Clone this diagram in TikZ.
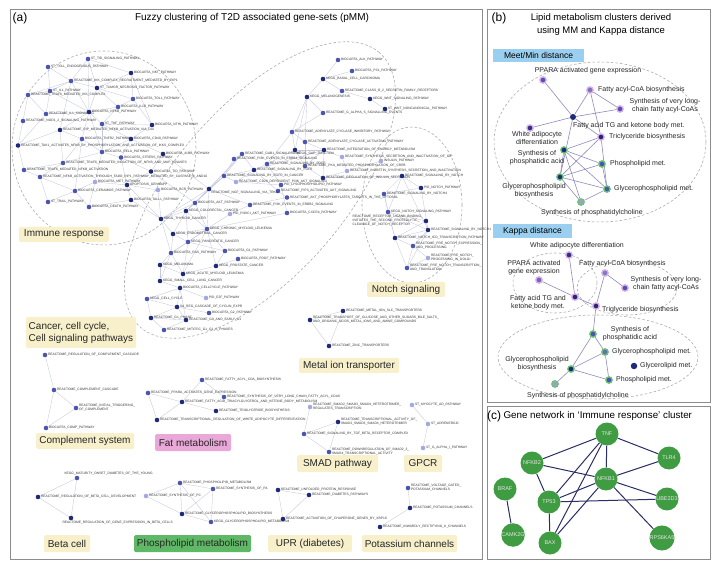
\documentclass[tikz,border=0pt]{standalone}
\usepackage{fontspec}
\setmainfont{Liberation Sans}
\usepackage{tikz}
\usetikzlibrary{positioning, backgrounds}
\definecolor{gsdark}{HTML}{1E2A78}
\definecolor{gsmid}{HTML}{4B55AE}
\definecolor{gslight}{HTML}{A4A8E0}
\definecolor{gsline}{HTML}{C3C6DC}
\definecolor{tagyellow}{HTML}{F7F0CB}
\definecolor{tagpink}{HTML}{E9A8D8}
\definecolor{taggreen}{HTML}{5FB865}
\definecolor{tagblue}{HTML}{9BCFF0}
\definecolor{ringpink}{HTML}{E4ACEA}
\definecolor{ringgreen}{HTML}{6CC474}
\definecolor{lipidline}{HTML}{8D8BB8}
\definecolor{genefill}{HTML}{3F9C42}
\definecolor{geneline}{HTML}{2B2E66}
\definecolor{panelgray}{HTML}{8C8C8C}

\tikzset{
  gset/.style={circle, inner sep=0pt, minimum size=4.6pt, fill=gsmid},
  gdark/.style={gset, fill=gsdark},
  glight/.style={gset, fill=gslight},
  gslab/.style={font=\fontsize{3.3}{3.9}\selectfont, text=black!80, inner sep=0.3pt, align=left},
  lr/.style={label={[gslab]right:#1}},
  ll/.style={label={[gslab]left:#1}},
  lbr/.style={label={[gslab]below right:#1}},
  gsedge/.style={draw=gsline, line width=0.35pt},
  clus/.style={draw=gray!70, line width=0.55pt, dash pattern=on 2.6pt off 2pt},
  tag/.style={rectangle, rounded corners=1.5pt, fill=tagyellow, inner sep=0pt,
    font=\fontsize{10}{12}\selectfont, text=black!85, align=left},
  panel/.style={draw=panelgray, line width=0.8pt},
  ptag/.style={font=\fontsize{12}{14}\selectfont},
  lipid/.style={circle, inner sep=0pt, minimum size=6.4pt, line width=1.3pt, draw=ringpink, fill=gsmid},
  lipidg/.style={lipid, draw=ringgreen},
  lplab/.style={font=\fontsize{7}{8}\selectfont, text=black!85, inner sep=0pt, align=center},
  lpedge/.style={draw=lipidline, line width=0.6pt},
  dbox/.style={rectangle, fill=tagblue, inner sep=0pt, font=\fontsize{8.5}{10}\selectfont},
  gene/.style={circle, fill=genefill, inner sep=0pt, minimum size=23pt,
    font=\fontsize{5.5}{6}\selectfont, text=gray!20},
  gnedge/.style={draw=geneline, line width=1pt}
}

\begin{document}
\begin{tikzpicture}[x=1pt, y=-1pt]
\useasboundingbox (0,0) rectangle (726,561);

% panel frames and headings
\draw[panel] (10,9) rectangle (482,559);
\draw[panel] (487,9) rectangle (710,402);
\draw[panel] (487,406) rectangle (710,559);
\node[ptag] (pa) at (20,18) {(a)};
\node[font=\fontsize{10}{12}\selectfont] (ta) at (252,18) {Fuzzy clustering of T2D associated gene-sets (pMM)};
\node[ptag] (pb) at (499,18) {(b)};
\node[font=\fontsize{9.5}{13}\selectfont, align=center] (tb) at (601,24.5) {Lipid metabolism clusters derived\\using MM and Kappa distance};
\node[ptag] (pc) at (494,416) {(c)};
\node[font=\fontsize{9.8}{12}\selectfont, anchor=west] (tc) at (500,416) {Gene network in ‘Immune response’ cluster};

%%% (a) immune response
\node[gset, lr={ST\_TID\_SIGNALING\_PATHWAY}] (i1) at (88,59) {};
\node[gset, lr={ST\_TOLL\_ENDOGENOUS\_PATHWAY}] (i2) at (48,67) {};
\node[gdark, lr={BIOCARTA\_NKT\_PATHWAY}] (i3) at (131,73) {};
\node[gset, lr={REACTOME\_IKK\_COMPLEX\_RECRUITMENT\_MEDIATED\_BY\_RIP1}] (i4) at (71,81) {};
\node[gset, lr={ST\_IL1\_PATHWAY}] (i5) at (50,91) {};
\node[gset, lr={REACTOME\_TRAF6\_MEDIATED\_IKK\_COMPLEX}] (i6) at (28,95) {};
\node[gdark, lr={ST\_TUMOR\_NECROSIS\_FACTOR\_PATHWAY}] (i7) at (97,88) {};
\node[gset, lr={BIOCARTA\_TOLL\_PATHWAY}] (i8) at (133,99) {};
\node[gset, lr={BIOCARTA\_IL1R\_PATHWAY}] (i9) at (118,107) {};
\node[gset, lr={REACTOME\_IL1\_SIGNALING}] (i10) at (46,114) {};
\node[gdark, lr={BIOCARTA\_NFKB\_PATHWAY}] (i11) at (89,112) {};
\node[gset, lr={REACTOME\_NOD1\_2\_SIGNALING\_PATHWAY}] (i12) at (23,121) {};
\node[gset, lr={ST\_TNF\_PATHWAY}] (i13) at (102,124) {};
\node[gdark, lr={BIOCARTA\_NTHI\_PATHWAY}] (i14) at (152,125) {};
\node[gdark, lr={REACTOME\_RIP\_MEDIATED\_NFKB\_ACTIVATION\_VIA\_DAI}] (i15) at (60,130) {};
\node[gset, lr={BIOCARTA\_TNFR2\_PATHWAY}] (i16) at (82,139) {};
\node[gdark, lr={BIOCARTA\_CD40\_PATHWAY}] (i17) at (131,139) {};
\node[gdark, lr={REACTOME\_TAK1\_ACTIVATES\_NFKB\_BY\_PHOSPHORYLATION\_AND\_ACTIVATION\_OF\_IKKS\_COMPLEX}] (i18) at (18,145.5) {};
\node[gset, lr={BIOCARTA\_RELA\_PATHWAY}] (i19) at (102,152) {};
\node[gdark, lr={BIOCARTA\_41BB\_PATHWAY}] (i20) at (163,154) {};
\node[gset, lr={BIOCARTA\_STRESS\_PATHWAY}] (i21) at (121,157.5) {};
\node[gset, lr={REACTOME\_TRAF6\_MEDIATED\_INDUCTION\_OF\_NFKB\_AND\_MAP\_KINASES}] (i22) at (63,163) {};
\node[gset, lr={REACTOME\_TRAF6\_MEDIATED\_NFKB\_ACTIVATION}] (i23) at (24,170) {};
\node[gset, lr={REACTOME\_NFKB\_ACTIVATION\_THROUGH\_FADD\_RIP1\_PATHWAY\_MEDIATED\_BY\_CASPASE\_8\_AND10}] (i24) at (40,177) {};
\node[gdark, lr={BIOCARTA\_TID\_PATHWAY}] (i25) at (151,171.5) {};
\node[glight, lr={BIOCARTA\_MET\_PATHWAY}] (i26) at (95,182) {};
\node[gdark, lr={APOPTOSIS\_GENMAPP}] (i27) at (127,185) {};
\node[glight, lr={BIOCARTA\_BCR\_PATHWAY}] (i28) at (158,190) {};
\node[gset, lr={BIOCARTA\_CERAMIDE\_PATHWAY}] (i29) at (75,191) {};
\node[gdark, lr={BIOCARTA\_TALL1\_PATHWAY}] (i30) at (131,200) {};
\node[gset, lr={ST\_TRAIL\_PATHWAY}] (i31) at (48,202) {};
\node[gset, lr={BIOCARTA\_DEATH\_PATHWAY}] (i32) at (89,207) {};

%%% (a) signalling, cancer and cell cycle
\node[gset, lr={BIOCARTA\_ALK\_PATHWAY}] (b1) at (338,60) {};
\node[gset, lr={BIOCARTA\_PS1\_PATHWAY}] (b2) at (352,71) {};
\node[gdark, lr={KEGG\_BASAL\_CELL\_CARCINOMA}] (b3) at (323,79) {};
\node[gset, lr={REACTOME\_CLASS\_B\_2\_SECRETIN\_FAMILY\_RECEPTORS}] (b4) at (342,91) {};
\node[gdark, lr={KEGG\_MELANOGENESIS}] (b5) at (307,97) {};
\node[gdark, lr={KEGG\_WNT\_SIGNALING\_PATHWAY}] (b6) at (370,99) {};
\node[gdark, lr={ST\_WNT\_NONCANONICAL\_PATHWAY}] (b7) at (385,109) {};
\node[gset, lr={REACTOME\_G\_ALPHA\_S\_SIGNALLING\_EVENTS}] (b8) at (323,113) {};
\node[gset, lr={REACTOME\_ADENYLATE\_CYCLASE\_INHIBITORY\_PATHWAY}] (b9) at (292,132) {};
\node[gset, lr={REACTOME\_ADENYLATE\_CYCLASE\_ACTIVATING\_PATHWAY}] (b10) at (305,142) {};
\node[gdark, lbr={KEGG\_GAP\_JUNCTION}] (b11) at (295,150) {};
\node[gdark, lr={REACTOME\_INTEGRATION\_OF\_ENERGY\_METABOLISM}] (b12) at (324,150) {};
\node[glight, lr={REACTOME\_SYNTHESIS\_SECRETION\_AND\_INACTIVATION\_OF\_GIP}] (b13) at (342,157) {};
\node[glight, lr={INSULIN\_PATHWAY}] (b14) at (381,161) {};
\node[gset, lr={REACTOME\_PKA\_MEDIATED\_PHOSPHORYLATION\_OF\_CREB}] (b15) at (305,166) {};
\node[glight, lr={REACTOME\_INCRETIN\_SYNTHESIS\_SECRETION\_AND\_INACTIVATION}] (b16) at (347,171) {};
\node[gdark, lr={REACTOME\_REGULATION\_OF\_INSULIN\_SECRETION}] (b17) at (323,178) {};
\node[gset, lr={REACTOME\_SIGNALING\_BY\_PDGF}] (b18) at (267,164) {};
\node[gset, lr={PID\_LYSOPHOSPHOLIPID\_PATHWAY}] (b20) at (281,185) {};
\node[gset, lr={REACTOME\_PIP3\_ACTIVATES\_AKT\_SIGNALING}] (b21) at (278,191) {};
\node[gset, lr={REACTOME\_AKT\_PHOSPHORYLATES\_TARGETS\_IN\_THE\_CYTOSOL}] (b22) at (287,197.5) {};
\node[gset, lr={REACTOME\_PI3K\_EVENTS\_IN\_ERBB2\_SIGNALING}] (b24) at (250,205) {};
\node[gset, lr={BIOCARTA\_CXCR4\_PATHWAY}] (b25) at (287,213) {};
\node[gset, lr={REACTOME\_GAB1\_SIGNALOSOME}] (b26) at (242,154) {};
\node[gset, lr={REACTOME\_PI3K\_EVENTS\_IN\_ERBB4\_SIGNALING}] (b27) at (234,159) {};
\node[gset, lr={REACTOME\_SIGNALING\_BY\_EGFR\_IN\_CANCER}] (b28) at (224,176) {};
\node[gdark, lr={REACTOME\_SIGNALING\_BY\_FGFR}] (b29) at (254,170) {};
\node[glight, lr={REACTOME\_CD28\_DEPENDENT\_PI3K\_AKT\_SIGNALING}] (b30) at (236,182) {};
\node[gdark, lbr={REACTOME\_NGF\_SIGNALLING\_VIA\_TRKA}] (b31) at (209,189) {};
\node[glight, lr={PID\_PI3KCI\_AKT\_PATHWAY}] (b32) at (230,214) {};
\node[gset, lr={BIOCARTA\_AKT\_PATHWAY}] (b33) at (195,203) {};
\node[gdark, lr={KEGG\_COLORECTAL\_CANCER}] (b34) at (186,211) {};
\node[gdark, lr={KEGG\_THYROID\_CANCER}] (b35) at (161,219) {};
\node[gset, lr={KEGG\_CHRONIC\_MYELOID\_LEUKEMIA}] (b36) at (207,229) {};
\node[gdark, lr={KEGG\_ENDOMETRIAL\_CANCER}] (b37) at (173,234) {};
\node[gset, lr={KEGG\_PANCREATIC\_CANCER}] (b38) at (188,242) {};
\node[gset, lr={BIOCARTA\_G1\_PATHWAY}] (b39) at (225,251) {};
\node[gset, lr={BIOCARTA\_RAS\_PATHWAY}] (b40) at (171,253) {};
\node[gset, lr={BIOCARTA\_PDGF\_PATHWAY}] (b41) at (238,259) {};
\node[gdark, lr={KEGG\_MELANOMA}] (b42) at (160,265) {};
\node[gdark, lr={KEGG\_ACUTE\_MYELOID\_LEUKEMIA}] (b43) at (183,274) {};
\node[gdark, lr={KEGG\_PROSTATE\_CANCER}] (b44) at (216,266) {};
\node[gdark, lr={KEGG\_SMALL\_CELL\_LUNG\_CANCER}] (b46) at (160,281) {};
\node[gdark, lr={BIOCARTA\_CELLCYCLE\_PATHWAY}] (b47) at (180,288) {};
\node[glight, lr={PID\_E2F\_PATHWAY}] (b48) at (206,298) {};
\node[gset, lr={KEGG\_CELL\_CYCLE}] (b49) at (147,299) {};
\node[gdark, lr={SA\_REG\_CASCADE\_OF\_CYCLIN\_EXPR}] (b50) at (177,307) {};
\node[gset, lr={BIOCARTA\_G2\_PATHWAY}] (b51) at (209,313) {};
\node[gdark, lr={REACTOME\_G1\_PHASE}] (b52) at (151,318) {};
\node[gdark, lr={REACTOME\_G0\_AND\_EARLY\_G1}] (b53) at (186,320) {};
\node[gset, lr={REACTOME\_MITOTIC\_G1\_G1\_S\_PHASES}] (b54) at (164,330) {};

%%% (a) notch
\node[gdark, lr={REACTOME\_SIGNALING\_BY\_NOTCH}] (n1) at (402,176) {};
\node[gdark, lr={PID\_NOTCH\_PATHWAY}] (n2) at (421,188) {};
\node[gset, lr={REACTOME\_SIGNALING\_BY\_NOTCH4}] (n3) at (384,194) {};
\node[gset, lr={KEGG\_NOTCH\_SIGNALING\_PATHWAY}] (n4) at (388,212) {};
\node[gdark, ll={REACTOME\_RECEPTOR\_LIGAND\_BINDING\_\\INITIATES\_THE\_SECOND\_PROTEOLYTIC\_\\CLEAVAGE\_OF\_NOTCH\_RECEPTOR}] (n5) at (426,221) {};
\node[gdark, lr={REACTOME\_SIGNALING\_BY\_NOTCH1}] (n6) at (428,230) {};
\node[gdark, lr={REACTOME\_NOTCH\_ICD\_TRANSCRIPTION\_PATHWAY}] (n7) at (395,238) {};
\node[gset, lr={REACTOME\_PRE\_NOTCH\_EXPRESSION\_\\AND\_PROCESSING}] (n8) at (413,246) {};
\node[glight, lr={REACTOME\_PRE\_NOTCH\_\\PROCESSING\_IN\_GOLGI}] (n9) at (428,258) {};
\node[gset, lr={REACTOME\_PRE\_NOTCH\_TRANSCRIPTION\_\\AND\_TRANSLATION}] (n10) at (407,268) {};

%%% (a) small clusters
\node[gdark, lr={REACTOME\_METAL\_ION\_SLC\_TRANSPORTERS}] (mt1) at (343,311) {};
\node[gdark, lr={REACTOME\_TRANSPORT\_OF\_GLUCOSE\_AND\_OTHER\_SUGARS\_BILE\_SALTS\_\\AND\_ORGANIC\_ACIDS\_METAL\_IONS\_AND\_AMINE\_COMPOUNDS}] (mt2) at (310,320) {};
\node[gdark, lr={REACTOME\_ZINC\_TRANSPORTERS}] (mt3) at (329,346) {};

\node[gset, lr={REACTOME\_REGULATION\_OF\_COMPLEMENT\_CASCADE}] (cm1) at (45,355) {};
\node[gset, lr={REACTOME\_COMPLEMENT\_CASCADE}] (cm2) at (54,390) {};
\node[gset, lr={REACTOME\_INITIAL\_TRIGGERING\_\\OF\_COMPLEMENT}] (cm3) at (76,408) {};
\node[gset, lr={BIOCARTA\_COMP\_PATHWAY}] (cm4) at (46,428) {};

\node[gset, lr={REACTOME\_FATTY\_ACYL\_COA\_BIOSYNTHESIS}] (f1) at (202,380) {};
\node[gset, lr={REACTOME\_PPARA\_ACTIVATES\_GENE\_EXPRESSION}] (f2) at (148,393) {};
\node[gset, lr={REACTOME\_SYNTHESIS\_OF\_VERY\_LONG\_CHAIN\_FATTY\_ACYL\_COAS}] (f3) at (224,397) {};
\node[gdark, lr={REACTOME\_FATTY\_ACID\_TRIACYLGLYCEROL\_AND\_KETONE\_BODY\_METABOLISM}] (f4) at (182,402) {};
\node[gdark, lr={REACTOME\_TRIGLYCERIDE\_BIOSYNTHESIS}] (f5) at (216,411) {};
\node[gdark, lr={REACTOME\_TRANSCRIPTIONAL\_REGULATION\_OF\_WHITE\_ADIPOCYTE\_DIFFERENTIATION}] (f6) at (157,420) {};

\node[glight, lr={REACTOME\_SMAD2\_SMAD3\_SMAD4\_HETEROTRIMER\_\\REGULATES\_TRANSCRIPTION}] (s1) at (310,407) {};
\node[gdark, lr={REACTOME\_TRANSCRIPTIONAL\_ACTIVITY\_OF\_\\SMAD2\_SMAD3\_SMAD4\_HETEROTRIMER}] (s2) at (338,422) {};
\node[gset, lr={REACTOME\_SIGNALING\_BY\_TGF\_BETA\_RECEPTOR\_COMPLEX}] (s3) at (304,434) {};
\node[gset, lr={REACTOME\_DOWNREGULATION\_OF\_SMAD2\_3\_\\SMAD4\_TRANSCRIPTIONAL\_ACTIVITY}] (s4) at (329,452) {};

\node[glight, lr={ST\_MYOCYTE\_AD\_PATHWAY}] (gp1) at (412,405) {};
\node[glight, lr={ST\_ADRENERGIC}] (gp2) at (428,424) {};
\node[glight, lr={ST\_G\_ALPHA\_I\_PATHWAY}] (gp3) at (423,448) {};

\node[gset] (bc1) at (77,478) {};
\node[gslab, anchor=south west] (bc1t) at (64,476) {KEGG\_MATURITY\_ONSET\_DIABETES\_OF\_THE\_YOUNG};
\node[gdark, lr={REACTOME\_REGULATION\_OF\_BETA\_CELL\_DEVELOPMENT}] (bc2) at (38,497) {};
\node[gdark] (bc3) at (71,518) {};
\node[gslab, anchor=north west] (bc3t) at (62,521) {REACTOME\_REGULATION\_OF\_GENE\_EXPRESSION\_IN\_BETA\_CELLS};

\node[gset, lr={REACTOME\_PHOSPHOLIPID\_METABOLISM}] (p1) at (180,483) {};
\node[gset, lr={REACTOME\_SYNTHESIS\_OF\_PA}] (p2) at (213,489) {};
\node[glight, lr={REACTOME\_SYNTHESIS\_OF\_PC}] (p3) at (146,496) {};
\node[gdark, lr={REACTOME\_GLYCEROPHOSPHOLIPID\_BIOSYNTHESIS}] (p4) at (182,514) {};
\node[gset, lr={KEGG\_GLYCEROPHOSPHOLIPID\_METABOLISM}] (p5) at (211,522) {};

\node[gdark, lr={REACTOME\_UNFOLDED\_PROTEIN\_RESPONSE}] (u1) at (278,490) {};
\node[gdark, lr={REACTOME\_DIABETES\_PATHWAYS}] (u2) at (309,495) {};
\node[gdark, lr={REACTOME\_ACTIVATION\_OF\_CHAPERONE\_GENES\_BY\_XBP1S}] (u3) at (283,519) {};

\node[gset, lr={REACTOME\_VOLTAGE\_GATED\_\\POTASSIUM\_CHANNELS}] (kc1) at (408,488) {};
\node[gdark, lr={REACTOME\_POTASSIUM\_CHANNELS}] (kc2) at (410,508) {};
\node[gdark, lr={REACTOME\_INWARDLY\_RECTIFYING\_K\_CHANNELS}] (kc3) at (380,527) {};

% cluster tags
\node[tag, minimum width=90pt, minimum height=15pt] (tImm) at (64,234.5) {Immune response};
\node[tag, minimum width=110pt, minimum height=31pt] (tCan) at (81,332.5) {Cancer, cell cycle,\\Cell signaling pathways};
\node[tag, minimum width=78pt, minimum height=15pt] (tNot) at (406,289.5) {Notch signaling};
\node[tag, minimum width=100pt, minimum height=15pt] (tMet) at (349,365.5) {Metal ion transporter};
\node[tag, minimum width=98pt, minimum height=16pt] (tCom) at (85,441) {Complement system};
\node[tag, fill=tagpink, minimum width=76pt, minimum height=17pt] (tFat) at (193,442.5) {Fat metabolism};
\node[tag, minimum width=81pt, minimum height=17pt] (tSmad) at (337.5,463.5) {SMAD pathway};
\node[tag, minimum width=38pt, minimum height=17pt] (tGpcr) at (423,463.5) {GPCR};
\node[tag, minimum width=46pt, minimum height=17pt] (tBeta) at (67,543.5) {Beta cell};
\node[tag, fill=taggreen, minimum width=117pt, minimum height=17pt] (tPho) at (192.5,543.5) {Phospholipid metabolism};
\node[tag, minimum width=84pt, minimum height=17pt] (tUpr) at (310,543.5) {UPR (diabetes)};
\node[tag, minimum width=95pt, minimum height=17pt] (tPot) at (409.5,543.5) {Potassium channels};

%%% (b) lipid clusters
\node[dbox, minimum width=91pt, minimum height=13pt] (dMM) at (538.5,55.5) {Meet/Min distance};
\node[dbox, minimum width=79pt, minimum height=14pt] (dKa) at (532.5,231) {Kappa distance};

\node[lipid] (mm1) at (543,80) {};
\node[lipid, fill=gsmid!80!white] (mm2) at (590,90) {};
\node[lipid] (mm3) at (620,109) {};
\node[circle, inner sep=0pt, minimum size=6pt, fill=gsdark] (mm4) at (573,117) {};
\node[lipid, fill=gsdark!80!gsmid] (mm5) at (530,128) {};
\node[lipid, fill=gsdark] (mm6) at (601,137) {};
\node[lipidg, fill=gsdark] (mm7) at (564,150) {};
\node[lipidg] (mm8) at (602,164) {};
\node[lipidg, fill=gsdark] (mm9) at (560,177) {};
\node[lipidg] (mm10) at (607,189) {};
\node[lipidg, fill=gslight!80!gray] (mm11) at (581,202) {};

\node[lplab] (mm1t) at (588,71) {PPARA activated gene expression};
\node[lplab, anchor=west] (mm2t) at (598,90) {Fatty acyl-CoA biosynthesis};
\node[lplab] (mm3t) at (665,106) {Synthesis of very long-\\chain fatty acyl-CoAs};
\node[lplab, anchor=west] (mm4t) at (573,126) {Fatty acid TG and ketone body met.};
\node[lplab] (mm5t) at (537,138.5) {White adipocyte\\differentiation};
\node[lplab, anchor=west] (mm6t) at (609,137) {Triclyceride biosynthesis};
\node[lplab] (mm7t) at (537,157.5) {Synthesis of\\phosphatidic acid};
\node[lplab, anchor=west] (mm8t) at (610,164) {Phospholipid met.};
\node[lplab] (mm9t) at (534,191) {Glycerophospholipid\\biosynthesis};
\node[lplab, anchor=west] (mm10t) at (614,189) {Glycerophospholipid met.};
\node[lplab] (mm11t) at (592,213) {Synthesis of phosphatidylcholine};

\node[lipid, fill=gsdark!80!gsmid] (kp1) at (569,255) {};
\node[lipid, fill=gsmid!85!white] (kp2) at (539,280) {};
\node[lipid, fill=gsdark] (kp3) at (575,297) {};
\node[lipid, fill=gsmid!75!white] (kp4) at (605,273) {};
\node[lipid] (kp5) at (625,288) {};
\node[lipid, fill=gsdark] (kp6) at (596,306) {};
\node[lipidg] (kp7) at (593,334) {};
\node[lipidg, fill=gsmid!85!white] (kp8) at (605,352) {};
\node[lipidg, fill=gsdark] (kp9) at (571,369) {};
\node[circle, inner sep=0pt, minimum size=6.5pt, fill=gsdark] (kp10) at (634,366) {};
\node[lipidg] (kp11) at (609,380) {};
\node[lipidg, fill=gslight!80!gray] (kp12) at (555,384) {};

\node[lplab] (kp1t) at (577,246) {White adipocyte differentiation};
\node[lplab] (kp2t) at (534,268) {PPARA activated\\gene expression};
\node[lplab] (kp3t) at (538,303) {Fatty acid TG and\\ketone body met.};
\node[lplab, anchor=west] (kp4t) at (579,264) {Fatty acyl-CoA biosynthesis};
\node[lplab] (kp5t) at (666,284) {Synthesis of very long-\\chain fatty acyl-CoAs};
\node[lplab, anchor=west] (kp6t) at (602,310) {Triglyceride biosynthesis};
\node[lplab] (kp7t) at (630,334) {Synthesis of\\phosphatidic acid};
\node[lplab, anchor=west] (kp8t) at (612,352) {Glycerophospholipid met.};
\node[lplab] (kp9t) at (537,364) {Glycerophospholipid\\biosynthesis};
\node[lplab, anchor=west] (kp10t) at (640,366) {Glycerolipid met.};
\node[lplab, anchor=west] (kp11t) at (616,380) {Phospholipid met.};
\node[lplab] (kp12t) at (578,396) {Synthesis of phosphatidylcholine};

%%% (c) immune gene network
\node[gene] (tnf) at (607,434) {TNF};
\node[gene] (tlr4) at (669,458) {TLR4};
\node[gene] (nfkb2) at (532,463) {NFKB2};
\node[gene] (nfkb1) at (606,479) {NFKB1};
\node[gene] (tp53) at (549,502) {TP53};
\node[gene] (ube) at (667,499) {UBE2D3};
\node[gene] (rps) at (662,538) {RPS6KA5};
\node[gene] (bax) at (550,543) {BAX};
\node[gene] (braf) at (505,489) {BRAF};
\node[gene] (camk) at (513,535) {CAMK2G};

% connectors go underneath
\begin{pgfonlayer}{background}
  \draw[clus] (104,148) ellipse [x radius=92pt, y radius=97pt];
  \draw[clus, rotate around={49:(260,190)}] (260,190) ellipse [x radius=182pt, y radius=85pt];
  \draw[clus] (412,205) ellipse [x radius=50pt, y radius=78pt];
  \draw[clus] (600,142) ellipse [x radius=106pt, y radius=80pt];
  \draw[clus] (555,283) ellipse [x radius=42pt, y radius=30pt];
  \draw[clus] (627,288) ellipse [x radius=50pt, y radius=27pt];
  \draw[clus] (598,357) ellipse [x radius=100pt, y radius=42pt];

  \foreach \a/\b in {i1/i4, i1/i11, i1/i7, i2/i4, i2/i5, i3/i7, i3/i8, i4/i5, i4/i6,
      i4/i7, i4/i11, i4/i15, i5/i6, i5/i10, i5/i11, i6/i12, i6/i10, i7/i11, i7/i9,
      i7/i8, i8/i9, i8/i14, i9/i11, i9/i13, i10/i11, i10/i18, i11/i13, i11/i15,
      i11/i16, i11/i19, i12/i18, i13/i14, i13/i17, i13/i19, i14/i17, i15/i16,
      i15/i18, i15/i22, i16/i19, i16/i22, i16/i29, i17/i20, i17/i21, i17/i19,
      i19/i21, i19/i22, i19/i26, i21/i25, i21/i27, i22/i23, i22/i24, i23/i24,
      i18/i23, i24/i29, i24/i31, i26/i27, i26/i29, i27/i30, i29/i32, i31/i29,
      i26/i32, i25/i27, i20/i25, i30/i32, i27/i28, i3/i14, i1/i3,
      i27/b35, i30/b35, i25/b33, i20/b31, i28/b35}
    \draw[gsedge] (\a) -- (\b);

  \foreach \a/\b in {b33/b34, b33/b35, b33/b36, b34/b35, b34/b36, b34/b37, b34/b38,
      b35/b37, b35/b40, b36/b37, b36/b38, b36/b40, b37/b38, b37/b40, b38/b40,
      b38/b39, b38/b43, b39/b44, b40/b42, b40/b43, b41/b44, b42/b46, b43/b44,
      b46/b47, b47/b49, b47/b50, b47/b48, b47/b53, b49/b50, b49/b52, b50/b52,
      b50/b53, b50/b51, b52/b53, b52/b54, b53/b54, b43/b47, b42/b43, b36/b43,
      b40/b46, b33/b31, b31/b34, b31/b36, b31/b28, b31/b26, b28/b29, b26/b29,
      b18/b29, b18/b20, b20/b21, b21/b22, b22/b24, b24/b31, b29/b21, b27/b26,
      b27/b28, b28/b30, b30/b20, b18/b9, b9/b10, b9/b11, b10/b12, b11/b12,
      b11/b15, b12/b13, b12/b17, b15/b17, b10/b15, b12/b15, b13/b16, b16/b17,
      b9/b8, b8/b5, b5/b3, b3/b4, b3/b1, b3/b2, b4/b6, b6/b7, b5/b9, b5/b10,
      b5/b11, b29/b30, b28/b26, b32/b24, b32/b36, b36/b25, b33/b26, b34/b28,
      b33/b28, b44/b36, b39/b36, b25/b20, b14/b16, b29/b12, b18/b11, b35/b31,
      b17/n1}
    \draw[gsedge] (\a) -- (\b);

  \foreach \a/\b in {n1/n2, n1/n3, n1/n4, n2/n3, n3/n4, n4/n5, n4/n6, n5/n6,
      n4/n7, n5/n7, n6/n7, n6/n8, n7/n8, n8/n9, n8/n10, n9/n10, n1/n6, n2/n6,
      n3/n7, n6/n10, n7/n10,
      mt1/mt2, mt2/mt3, mt1/mt3, cm1/cm2, cm2/cm3, cm2/cm4, cm3/cm4,
      f1/f3, f1/f4, f2/f4, f2/f6, f4/f5, f4/f6,
      s1/s3, s2/s3, s2/s4, s3/s4, gp1/gp2, gp2/gp3,
      bc1/bc2, bc2/bc3, bc1/bc3,
      p1/p2, p1/p3, p1/p4, p1/p5, p2/p4, p2/p5, p3/p4, p4/p5,
      u1/u2, u1/u3, u2/u3, kc1/kc2, kc2/kc3}
    \draw[gsedge] (\a) -- (\b);

  \foreach \a/\b in {mm1/mm4, mm2/mm4, mm2/mm3, mm2/mm6, mm3/mm4, mm4/mm5, mm4/mm6,
      mm4/mm9, mm6/mm7, mm6/mm9, mm6/mm10, mm7/mm8, mm7/mm10, mm7/mm9, mm8/mm9,
      mm8/mm10, mm9/mm10, mm9/mm11, mm10/mm11, mm7/mm11,
      kp1/kp3, kp2/kp3, kp3/kp6, kp4/kp5, kp4/kp6, kp6/kp7, kp7/kp8, kp7/kp9,
      kp8/kp9, kp8/kp11, kp9/kp11, kp9/kp12}
    \draw[lpedge] (\a) -- (\b);

  \foreach \a/\b in {tnf/tlr4, tnf/nfkb2, tnf/nfkb1, tnf/tp53, tnf/bax, nfkb2/nfkb1,
      nfkb2/tp53, tlr4/nfkb1, nfkb1/ube, nfkb1/rps, nfkb1/tp53, nfkb1/bax,
      tp53/ube, tp53/bax, braf/camk}
    \draw[gnedge] (\a) -- (\b);
\end{pgfonlayer}
\end{tikzpicture}
\end{document}
